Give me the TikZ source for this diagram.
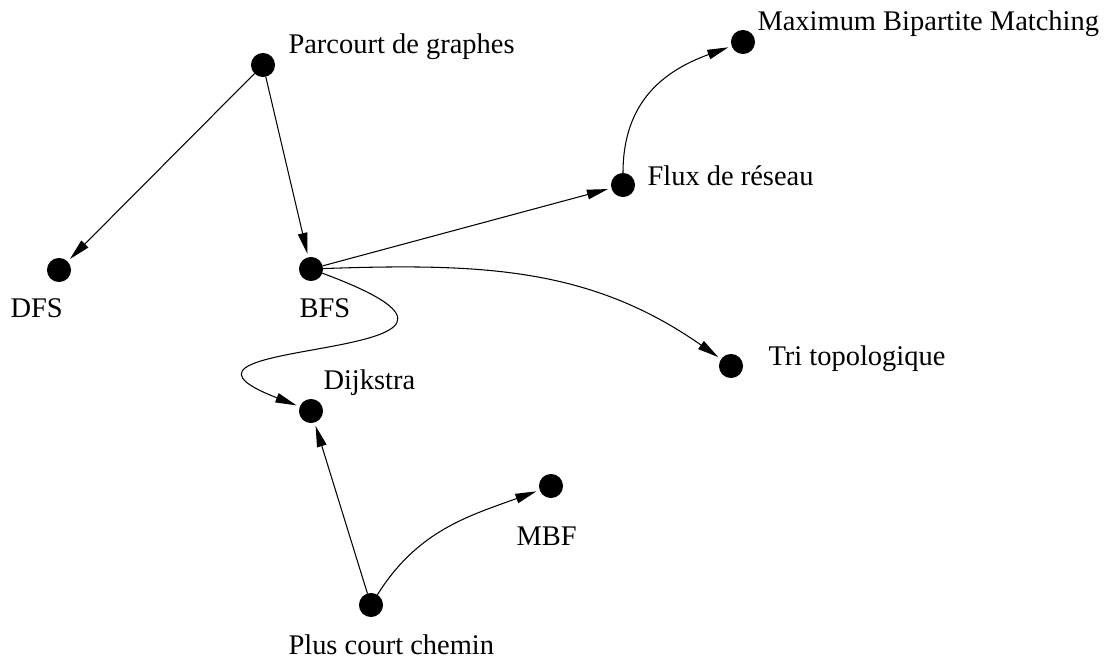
\documentclass[tikz,border=0pt]{standalone}
\usepackage{fontspec}
\setmainfont{Liberation Serif}
\usetikzlibrary{arrows.meta}

\begin{document}
\begin{tikzpicture}[x=0.02cm, y=-0.02cm, line width=0.6pt,
	main_node/.style={circle,fill=black,draw,minimum size=0.46cm,inner sep=0pt},
	lbl/.style={anchor=base west,inner sep=0pt,font=\fontsize{16.2}{19}\selectfont},
	arr/.style={-{Triangle[length=12pt,width=5.5pt]}, shorten >=2pt}]
				\useasboundingbox (0,0) rectangle (1107,660);
				% dots
				\node[main_node](parc) at (263,65){};
				\node[main_node](dfs) at (59,270){};
				\node[main_node](bfs) at (311,269){};
				\node[main_node](flux) at (623,185){};
				\node[main_node](max) at (743,42){};
				\node[main_node](tri) at (731,366){};
				\node[main_node](dijk) at (311,411){};
				\node[main_node](mbf) at (551,486){};
				\node[main_node](plus) at (371,605){};
				% labels
				\node[lbl](parc_txt) at (288,53){Parcourt de graphes};
				\node[lbl](dfs_txt) at (10,317){DFS};
				\node[lbl](bfs_txt) at (299,317){BFS};
				\node[lbl](flux_txt) at (647,185){Flux de réseau};
				\node[lbl](max_txt) at (757,30){Maximum Bipartite Matching};
				\node[lbl](tri_txt) at (768,365){Tri topologique};
				\node[lbl](dijk_txt) at (323,389){Dijkstra};
				\node[lbl](mbf_txt) at (516,545){MBF};
				\node[lbl](plus_txt) at (288,654){Plus court chemin};
				% edges
				\draw[arr](parc) -- (dfs);
				\draw[arr](parc) -- (bfs);
				\draw[arr](bfs) -- (flux);
				\draw[arr](flux) to[out=90, in=200, looseness=1.1] (max);
				\draw[arr](bfs) to[out=2, in=145] (tri);
				\draw[arr](bfs) .. controls (570,365) and (115,335) .. (dijk);
				\draw[arr](plus) -- (dijk);
				\draw[arr](plus) to[out=58, in=200] (mbf);
			\end{tikzpicture}
\end{document}
